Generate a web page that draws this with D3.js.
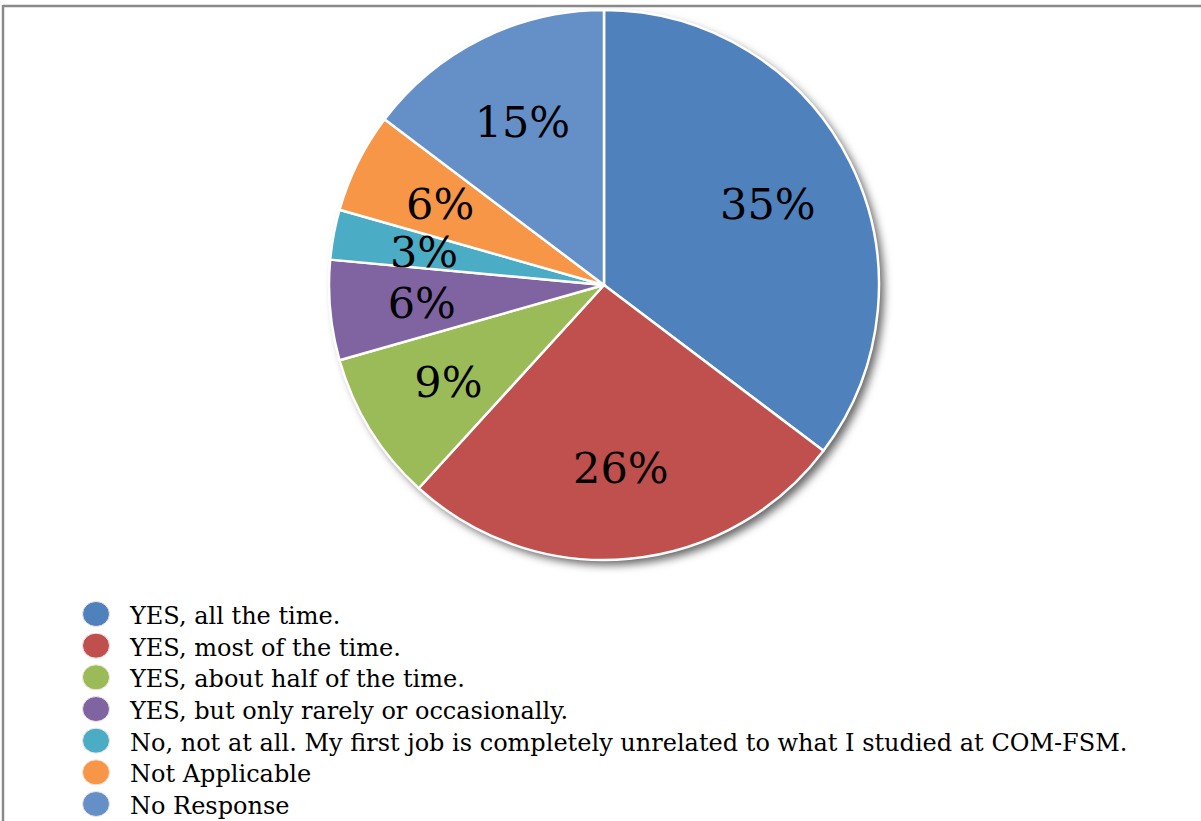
<!DOCTYPE html>
<html>
<head>
<meta charset="utf-8">
<script src="https://cdn.jsdelivr.net/npm/d3@7"></script>
<style>
  html, body { margin: 0; padding: 0; background: #fff; overflow: hidden; }
  svg { display: block; }
</style>
</head>
<body>
<svg id="chart" width="1201" height="821"></svg>
<script>
// Survey responses: does the first job relate to what was studied?
const categories = [
  "YES, all the time.",
  "YES, most of the time.",
  "YES, about half of the time.",
  "YES, but only rarely or occasionally.",
  "No, not at all. My first job is completely unrelated to what I studied at COM-FSM.",
  "Not Applicable",
  "No Response"
];
const counts = [12, 9, 3, 2, 1, 2, 5];
const colors = ["#4F81BD", "#C0504D", "#9BBB59", "#8064A2", "#4BACC6", "#F79646", "#6590C7"];

const W = 1201, H = 821;
const cx = 604, cy = 285, R = 275;
const serif = "'DejaVu Serif', 'Liberation Serif', serif";

const svg = d3.select("#chart");

// frame lines (top and left)
svg.append("line").attr("x1", 3).attr("y1", 6).attr("x2", W).attr("y2", 6)
  .attr("stroke", "#8a8a8a").attr("stroke-width", 2.5);
svg.append("line").attr("x1", 3).attr("y1", 5).attr("x2", 3).attr("y2", H)
  .attr("stroke", "#8a8a8a").attr("stroke-width", 2.5);

// soft drop shadow under the pie
const defs = svg.append("defs");
const f = defs.append("filter").attr("id", "shadow")
  .attr("x", "-10%").attr("y", "-10%").attr("width", "125%").attr("height", "125%");
f.append("feDropShadow").attr("dx", 5).attr("dy", 5).attr("stdDeviation", 4.5)
  .attr("flood-color", "#000").attr("flood-opacity", 0.6);

const total = d3.sum(counts);
const data = counts.map((v, i) => ({ label: categories[i], value: v, color: colors[i] }));

const pie = d3.pie().value(d => d.value).sort(null);
const arcs = pie(data);
const arc = d3.arc().innerRadius(0).outerRadius(R);
const labelArc = d3.arc().innerRadius(183).outerRadius(183);

const g = svg.append("g").attr("transform", `translate(${cx},${cy})`);

// shadow disc drawn once behind the slices
g.append("circle").attr("r", R).attr("fill", "#fff").attr("filter", "url(#shadow)");

g.selectAll("path.slice").data(arcs).join("path")
  .attr("class", "slice")
  .attr("d", arc)
  .attr("fill", d => d.data.color)
  .attr("stroke", "#fff")
  .attr("stroke-width", 2.5)
  .attr("stroke-linejoin", "round");

const pct = d3.format(".0%");
g.selectAll("text.pct").data(arcs).join("text")
  .attr("class", "pct")
  .attr("transform", d => `translate(${labelArc.centroid(d)})`)
  .attr("text-anchor", "middle")
  .attr("dy", "0.37em")
  .attr("font-family", serif)
  .attr("font-size", 43)
  .attr("fill", "#000")
  .text(d => pct(d.data.value / total));

// legend
const legY = d3.scalePoint().domain(categories).range([614, 804]);
const leg = svg.append("g");
const item = leg.selectAll("g").data(data).join("g")
  .attr("transform", d => `translate(0,${legY(d.label)})`);
item.append("ellipse")
  .attr("cx", 96).attr("cy", 0).attr("rx", 13.5).attr("ry", 12.5)
  .attr("fill", d => d.color)
  .attr("stroke", "#f2e6e6").attr("stroke-width", 1);
item.append("text")
  .attr("x", 130).attr("y", 10)
  .attr("font-family", serif)
  .attr("font-size", 24)
  .attr("fill", "#000")
  .text(d => d.label);
</script>
</body>
</html>
